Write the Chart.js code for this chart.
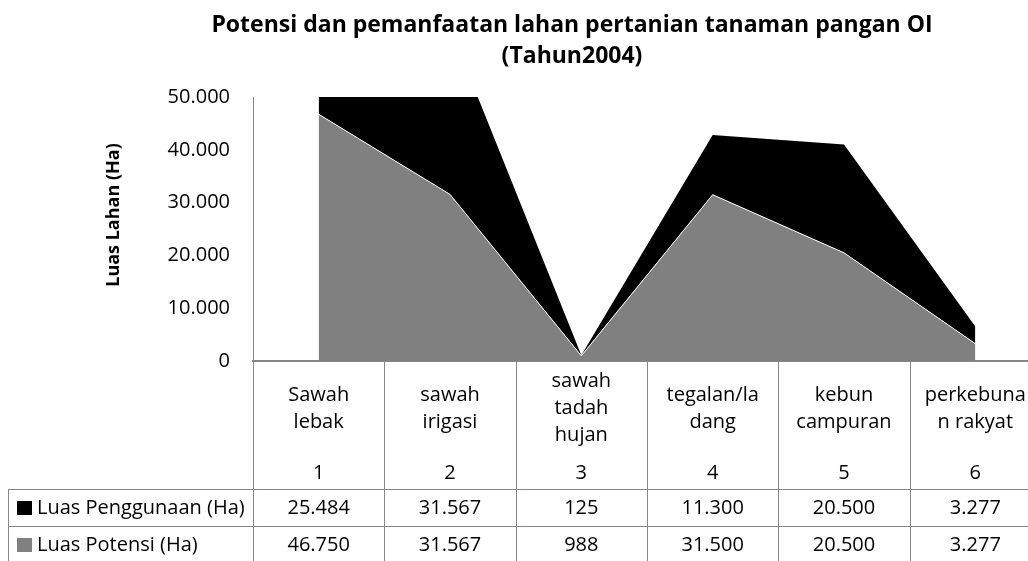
<!DOCTYPE html>
<html>
<head>
<meta charset="utf-8">
<script src="https://cdn.jsdelivr.net/npm/chart.js@4"></script>
<style>
  html, body { margin: 0; padding: 0; overflow: hidden; background: #fff; }
  #wrap { position: absolute; left: 0; top: 0; width: 1041px; height: 561px; }
</style>
</head>
<body>
<div id="wrap"><canvas id="areaChart"></canvas></div>
<script>
    "use strict";

    // Data
    var categories = [["Sawah", "lebak"], ["sawah", "irigasi"], ["sawah", "tadah", "hujan"],
                      ["tegalan/la", "dang"], ["kebun", "campuran"], ["perkebuna", "n rakyat"]];
    var categoryNumbers = ["1", "2", "3", "4", "5", "6"];
    var luasPenggunaan = [25484, 31567, 125, 11300, 20500, 3277];
    var luasPotensi = [46750, 31567, 988, 31500, 20500, 3277];
    var yMax = 50000;
    var yStep = 10000;
    var yTitle = "Luas Lahan (Ha)";

    var FONT = "'Open Sans', sans-serif";
    var LINE = "#868686";

    // 12345 -> "12.345"
    function fmt(v) {
        return String(v).replace(/\B(?=(\d{3})+(?!\d))/g, ".");
    }

    // Data table under the plot (+ the y axis title)
    var dataTable = {
        id: "dataTable",
        afterDraw: function (chart) {
            var ctx = chart.ctx;
            var area = chart.chartArea;
            var x = chart.scales.x;
            var b = area.bottom;
            var colW = (area.right - area.left) / categories.length;
            var rows = [
                { label: chart.data.datasets[1].label, color: "#000000", values: luasPenggunaan, y: b + 147 },
                { label: chart.data.datasets[0].label, color: "#808080", values: luasPotensi, y: b + 184 }
            ];

            ctx.save();
            ctx.strokeStyle = LINE;
            ctx.lineWidth = 1;
            ctx.beginPath();
            // column lines
            for (var k = 0; k <= categories.length; k++) {
                var lx = Math.round(area.left + k * colW) + 0.5;
                ctx.moveTo(lx, k === 0 ? area.top : b);
                ctx.lineTo(lx, chart.height);
            }
            // row lines
            ctx.moveTo(8, Math.round(b + 128) + 0.5);
            ctx.lineTo(chart.width, Math.round(b + 128) + 0.5);
            ctx.moveTo(8, Math.round(b + 165) + 0.5);
            ctx.lineTo(chart.width, Math.round(b + 165) + 0.5);
            ctx.moveTo(8.5, b + 128);
            ctx.lineTo(8.5, chart.height);
            ctx.stroke();

            ctx.fillStyle = "#000";
            ctx.font = "20px " + FONT;
            ctx.textAlign = "center";
            ctx.textBaseline = "middle";

            // category names + numbers
            categories.forEach(function (lines, i) {
                var cx = x.getPixelForValue(i);
                var y0 = b + 47.5 - (lines.length - 1) * 27 / 2;
                lines.forEach(function (t, j) {
                    ctx.fillText(t, cx, y0 + j * 27);
                });
                ctx.fillText(categoryNumbers[i], cx, b + 112);
            });

            // series rows
            rows.forEach(function (r) {
                ctx.textAlign = "center";
                r.values.forEach(function (v, i) {
                    ctx.fillText(fmt(v), x.getPixelForValue(i), r.y);
                });
                ctx.fillStyle = r.color;
                ctx.fillRect(17, r.y - 7, 15, 14);
                ctx.fillStyle = "#000";
                ctx.textAlign = "left";
                ctx.fillText(r.label, 37, r.y);
            });

            // y axis title
            ctx.translate(114, 215);
            ctx.rotate(-Math.PI / 2);
            ctx.textAlign = "center";
            ctx.font = "bold 18px " + FONT;
            ctx.fillText(yTitle, 0, 0);
            ctx.restore();
        }
    };

    var ctx1 = document.getElementById("areaChart").getContext("2d");

    var myChart1 = new Chart(ctx1, {
        type: "line",
        data: {
            labels: categories,
            datasets: [
            {
                label: "Luas Potensi (Ha)",
                data: luasPotensi,
                backgroundColor: "#808080",
                borderColor: "#ffffff",
                borderWidth: 1,
                fill: "origin"
            },
            {
                label: "Luas Penggunaan (Ha)",
                data: luasPenggunaan,
                backgroundColor: "#000000",
                borderColor: "#000000",
                borderWidth: 0,
                fill: "-1"
            }
            ]
        },
        options: {
            responsive: true,
            maintainAspectRatio: false,
            animation: false,
            layout: { padding: { left: 103, right: 0, top: 0, bottom: 0 } },
            elements: { point: { radius: 0 }, line: { tension: 0 } },
            plugins: {
                legend: { display: false },
                tooltip: { enabled: false },
                title: {
                    display: true,
                    text: ["Potensi dan pemanfaatan lahan pertanian tanaman pangan OI", "(Tahun2004)"],
                    color: "#000",
                    font: { family: FONT, size: 23, weight: "bold", lineHeight: 1.35 },
                    padding: { top: 10, bottom: 25 }
                }
            },
            scales: {
                x: {
                    offset: true,
                    ticks: { display: false },
                    grid: { display: false, drawTicks: false },
                    border: { display: true, color: LINE, width: 2 },
                    afterFit: function (s) { s.height = 200; }
                },
                y: {
                    stacked: true,
                    min: 0,
                    max: yMax,
                    ticks: {
                        stepSize: yStep,
                        padding: 23,
                        color: "#000",
                        font: { family: FONT, size: 20 },
                        callback: function (v) { return fmt(v); }
                    },
                    grid: { display: false, drawTicks: false },
                    border: { display: false },
                    afterFit: function (s) { s.width = 150; }
                }
            }
        },
        plugins: [dataTable]
    });
</script>
</body>
</html>
